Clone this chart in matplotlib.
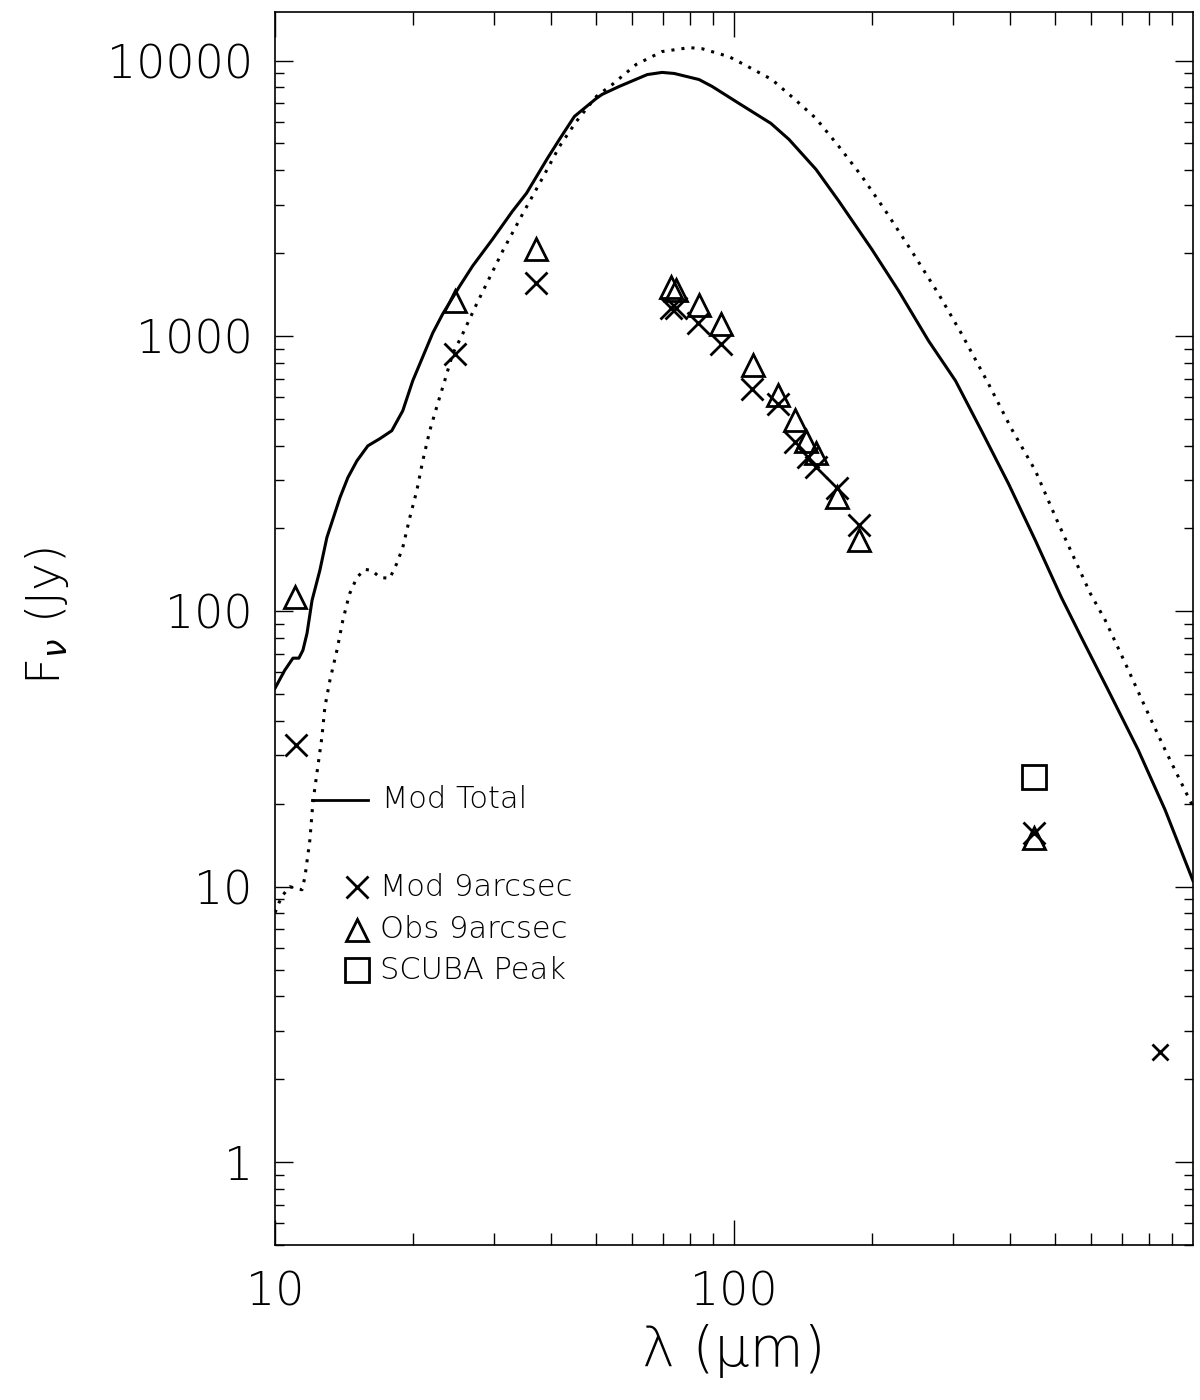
import matplotlib
matplotlib.use('Agg')
import matplotlib.pyplot as plt
from matplotlib.ticker import FixedLocator, FixedFormatter, LogLocator, NullFormatter

# model total SED (solid), micron / Jy
tot_wave = [10.0, 10.5, 10.94, 11.27, 11.5, 11.74, 12.04, 12.52, 12.97, 13.85, 14.41, 15.08,
            15.93, 16.92, 17.96, 18.98, 19.95, 22.06, 23.19, 25.26, 26.94, 29.78, 32.91,
            35.31, 39.22, 41.65, 44.9, 50.1, 51.6, 56.2, 64.7, 69.7, 74.1, 83.9, 89.6,
            102.5, 120.3, 131.7, 150.8, 169.2, 199.5, 228.5, 265.4, 303.8, 346.0, 396.1,
            453.5, 516.5, 570.9, 653.5, 759.4, 869.3, 1000.0]
tot_flux = [52.6, 61.1, 67.6, 67.6, 72.2, 83.2, 109.6, 140.8, 185.4, 258.8, 306, 352,
            399, 423.6, 452.7, 535, 687, 1025, 1202, 1518, 1794, 2246, 2838,
            3298, 4416, 5174, 6267, 7282, 7535, 8051, 8892, 9055, 8974, 8531, 8051,
            6988, 5913, 5174, 4028, 3085, 2066, 1455, 959, 687, 452.7, 291,
            180.8, 112.4, 80.5, 51.7, 31.4, 19.0, 10.5]

# second model curve (dotted)
dot_wave = [10.0, 10.2, 10.41, 10.78, 11.16, 11.45, 11.62, 11.91, 12.09, 12.34, 12.65, 12.84,
            13.17, 13.64, 14.05, 14.41, 14.55, 15.08, 15.69, 16.25, 16.92, 17.78, 18.42,
            18.98, 19.66, 20.36, 20.98, 21.73, 22.61, 23.42, 24.38, 25.63, 27.49, 31.32,
            34.6, 38.23, 41.65, 45.35, 50.1, 54.3, 61.2, 69.7, 79.9, 85.2, 97.5, 106.2,
            120.9, 135.0, 150.8, 169.2, 189.8, 214.0, 243.8, 279.1, 313.2, 358.4, 402.2,
            453.5, 508.8, 597.2, 644.0, 711.7, 786.6, 869.3, 1000.0]
dot_flux = [8.05, 8.75, 9.35, 10.0, 9.84, 9.75, 10.87, 14.8, 20.2, 25.9, 34.9, 44.9,
            56.2, 72.2, 92.7, 109.6, 116.2, 132.8, 142, 140.8, 132.8, 131.7, 149.3,
            170.6, 219, 274, 352, 452.7, 567, 687, 860, 1017, 1306, 2032,
            2767, 3735, 4875, 6012, 7405, 8185, 9676, 10780, 11140, 11040, 10330, 9590,
            8531, 7282, 6166, 4875, 3800, 2838, 2032, 1419, 1017, 670, 460,
            324, 208.4, 116.2, 92.7, 64.8, 44.9, 31.4, 19.5]

# 9 arcsec aperture fluxes
obs_wave = [11.05, 24.62, 36.94, 72.8, 74.7, 83.9, 93.8, 110.0, 124.8, 135.7, 143.6,
            150.6, 167.8, 187.0, 451.2]
obs_flux = [112.4, 1339, 2066, 1506, 1471, 1295, 1109, 785, 611, 495, 414,
            375, 261, 182, 15.06]
mod_wave = [11.11, 24.62, 37.12, 72.8, 74.7, 83.6, 93.8, 109.6, 124.8, 135.7, 145.0,
            150.6, 167.8, 187.0, 451.2]
mod_flux = [32.7, 860, 1556, 1267, 1265, 1117, 933, 641, 566, 411, 362,
            333, 281, 205, 15.7]
mod850_wave = [848.0]
mod850_flux = [2.52]
scuba_wave = [451.2]
scuba_flux = [25.0]

plt.rcParams['font.family'] = ['DejaVu Sans']
plt.rcParams['font.weight'] = 'light'
plt.rcParams['axes.labelweight'] = 'light'

fig = plt.figure(figsize=(12, 14), dpi=100)
ax = fig.add_axes([0.2292, 0.1107, 0.765, 0.8807])

ax.plot(tot_wave, tot_flux, color='black', lw=2.2, solid_joinstyle='round')
ax.plot(dot_wave, dot_flux, color='black', lw=2.2, linestyle=(0, (1, 2.3)),
        dash_capstyle='butt')

mk = dict(linestyle='none', color='black', mfc='none', mec='black', mew=2.0)
ax.plot(mod_wave, mod_flux, marker='x', ms=16, **mk)
ax.plot(obs_wave, obs_flux, marker='^', ms=16, **mk)
ax.plot(scuba_wave, scuba_flux, marker='s', ms=17, **mk)
ax.plot(mod850_wave, mod850_flux, marker='x', ms=11, **mk)

ax.set_xscale('log')
ax.set_yscale('log')
ax.set_xlim(10, 1000)
ax.set_ylim(0.5, 15000)

ax.xaxis.set_major_locator(FixedLocator([10, 100]))
ax.xaxis.set_major_formatter(FixedFormatter(['10', '100']))
ax.xaxis.set_minor_locator(LogLocator(base=10, subs=range(2, 10)))
ax.xaxis.set_minor_formatter(NullFormatter())
ax.yaxis.set_major_locator(FixedLocator([1, 10, 100, 1000, 10000]))
ax.yaxis.set_major_formatter(FixedFormatter(['1', '10', '100', '1000', '10000']))
ax.yaxis.set_minor_locator(LogLocator(base=10, subs=range(2, 10), numticks=20))
ax.yaxis.set_minor_formatter(NullFormatter())

ax.xaxis.set_tick_params(which='major', direction='in', length=18, width=1, top=True,
                         labelsize=33, pad=18)
ax.xaxis.set_tick_params(which='minor', direction='in', length=9, width=1, top=True)
ax.yaxis.set_tick_params(which='major', direction='in', length=13, width=1, right=True,
                         labelsize=33, pad=16)
ax.yaxis.set_tick_params(which='minor', direction='in', length=6.5, width=1, right=True)
for sp in ax.spines.values():
    sp.set_linewidth(1.2)

ax.set_xlabel('λ (μm)', fontsize=40, fontweight='light')
ax.xaxis.set_label_coords(0.5, -0.064)
ax.set_ylabel(r'F$_\nu$ (Jy)', fontsize=34, fontweight='light')
ax.yaxis.set_label_coords(-0.222, 0.51)

# hand-made legend, IDL style
tr = ax.transAxes
ax.plot([0.040, 0.101], [0.361, 0.361], color='black', lw=2.0, transform=tr)
ax.text(0.1166, 0.361, 'Mod Total', fontsize=22, va='center', ha='left', transform=tr)
ax.plot([0.0893], [0.2903], marker='x', ms=16, transform=tr, **mk)
ax.text(0.1144, 0.2903, 'Mod 9arcsec', fontsize=22, va='center', ha='left', transform=tr)
ax.plot([0.0893], [0.2555], marker='^', ms=16, transform=tr, **mk)
ax.text(0.1144, 0.2555, 'Obs 9arcsec', fontsize=22, va='center', ha='left', transform=tr)
ax.plot([0.0893], [0.223], marker='s', ms=17, transform=tr, **mk)
ax.text(0.1144, 0.223, 'SCUBA Peak', fontsize=22, va='center', ha='left', transform=tr)

fig.savefig('out.png', dpi=100)
